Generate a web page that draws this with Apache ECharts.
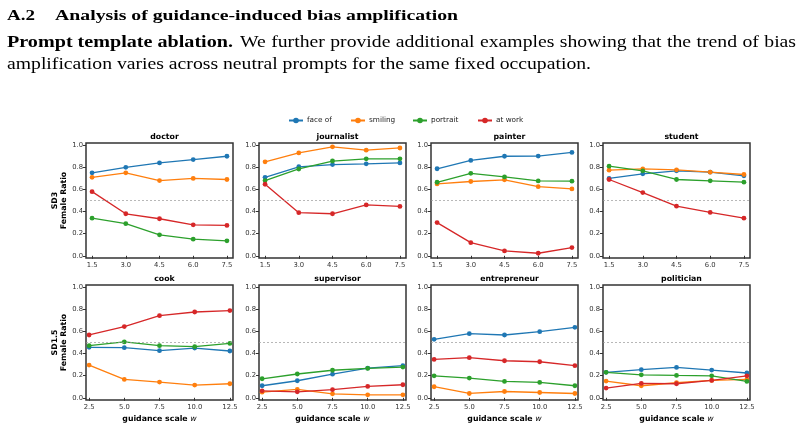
<!DOCTYPE html>
<html><head><meta charset="utf-8">
<script src="https://cdn.jsdelivr.net/npm/echarts@6/dist/echarts.min.js"></script>
<style>html,body{margin:0;padding:0;background:#fff}#c{width:804px;height:429px}</style>
</head><body><div id="c"></div>
<script>
// ---- data ----
const templates = ['face of', 'smiling', 'portrait', 'at work'];
const colors = ['#1f77b4', '#ff7f0e', '#2ca02c', '#d62728'];
const scalesSD3 = [1.5, 3.0, 4.5, 6.0, 7.5];
const scalesSD15 = [2.5, 5.0, 7.5, 10.0, 12.5];
const yTicks = [0.0, 0.2, 0.4, 0.6, 0.8, 1.0];
const occupationsSD3 = ['doctor', 'journalist', 'painter', 'student'];
const occupationsSD15 = ['cook', 'supervisor', 'entrepreneur', 'politician'];
// each: [face of, smiling, portrait, at work]
const doctor = [[0.75, 0.80, 0.84, 0.87, 0.90], [0.71, 0.75, 0.68, 0.70, 0.69], [0.34, 0.29, 0.19, 0.15, 0.135], [0.58, 0.38, 0.335, 0.28, 0.275]];
const journalist = [[0.71, 0.805, 0.825, 0.832, 0.84], [0.85, 0.93, 0.985, 0.955, 0.975], [0.68, 0.785, 0.857, 0.877, 0.877], [0.647, 0.39, 0.38, 0.46, 0.446]];
const painter = [[0.787, 0.862, 0.90, 0.902, 0.935], [0.65, 0.672, 0.687, 0.625, 0.605], [0.665, 0.746, 0.713, 0.677, 0.675], [0.30, 0.119, 0.044, 0.023, 0.074]];
const student = [[0.70, 0.741, 0.768, 0.756, 0.723], [0.774, 0.786, 0.777, 0.756, 0.735], [0.81, 0.768, 0.69, 0.678, 0.666], [0.69, 0.572, 0.449, 0.392, 0.34]];
const cook = [[0.456, 0.453, 0.426, 0.45, 0.423], [0.296, 0.166, 0.142, 0.115, 0.127], [0.471, 0.505, 0.471, 0.462, 0.492], [0.568, 0.644, 0.743, 0.776, 0.789]];
const supervisor = [[0.109, 0.154, 0.214, 0.269, 0.29], [0.051, 0.076, 0.036, 0.027, 0.027], [0.172, 0.215, 0.249, 0.266, 0.278], [0.063, 0.054, 0.073, 0.103, 0.118]];
const entrepreneur = [[0.529, 0.58, 0.568, 0.598, 0.637], [0.10, 0.039, 0.057, 0.048, 0.039], [0.199, 0.178, 0.148, 0.139, 0.109], [0.347, 0.363, 0.335, 0.326, 0.29]];
const politician = [[0.23, 0.254, 0.275, 0.251, 0.224], [0.151, 0.109, 0.136, 0.157, 0.166], [0.23, 0.208, 0.202, 0.199, 0.148], [0.088, 0.13, 0.127, 0.157, 0.199]];
const rowLabels = ['SD3', 'SD1.5'];
const xLabel = 'guidance scale ';
const panelData = { doctor, journalist, painter, student, cook, supervisor, entrepreneur, politician };

const headNum = 'A.2';
const headText = 'Analysis of guidance-induced bias amplification';
const paraBold = 'Prompt template ablation.';
const paraLine1 = 'We further provide additional examples showing that the trend of bias';
const paraLine2 = 'amplification varies across neutral prompts for the same fixed occupation.';

// ---- layout ----
const lefts = [86, 259, 431, 603];
const tops = [143, 285];
const W = 147, H = 115;
const tickFont = 'DejaVu Sans';

const grids = [], xAxes = [], yAxes = [], series = [], titles = [];
const rows = [occupationsSD3, occupationsSD15];
const rowScales = [scalesSD3, scalesSD15];
const xPad = [0.27, 0.22];
let gi = 0;
rows.forEach((occs, r) => {
  occs.forEach((occ, c) => {
    grids.push({ left: lefts[c], top: tops[r], width: W, height: H, show: true, borderColor: '#333', borderWidth: 1.5, backgroundColor: 'transparent' });
    const sc = rowScales[r];
    xAxes.push({
      gridIndex: gi, type: 'value', min: sc[0] - xPad[r], max: sc[sc.length - 1] + xPad[r],
      axisLine: { show: false }, splitLine: { show: false },
      axisTick: { show: true, inside: false, length: 3, customValues: sc, lineStyle: { color: '#333', width: 1 } },
      axisLabel: { customValues: sc, formatter: v => v.toFixed(1), fontFamily: tickFont, fontSize: 6.8, color: '#333', margin: 4 },
      name: r === 1 ? '{b|' + xLabel + '}{i|w}' : '', nameLocation: 'middle', nameGap: 15,
      nameTextStyle: { rich: { b: { fontFamily: tickFont, fontWeight: 'bold', fontSize: 7.8, color: '#000' }, i: { fontFamily: tickFont, fontStyle: 'italic', fontSize: 7.8, color: '#000' } } }
    });
    yAxes.push({
      gridIndex: gi, type: 'value', min: -0.02, max: 1.02,
      axisLine: { show: false }, splitLine: { show: false },
      axisTick: { show: true, length: 3, customValues: yTicks, lineStyle: { color: '#333', width: 1 } },
      axisLabel: { customValues: yTicks, formatter: v => v.toFixed(1), fontFamily: tickFont, fontSize: 6.8, color: '#333', margin: 3 },
      name: c === 0 ? rowLabels[r] + '\nFemale Ratio' : '', nameLocation: 'middle', nameRotate: 90, nameGap: 18,
      nameTextStyle: { fontFamily: tickFont, fontWeight: 'bold', fontSize: 7.8, color: '#000', lineHeight: 9, align: 'center' }
    });
    titles.push({ text: occ, left: lefts[c] + W / 2, top: tops[r] - 15, textAlign: 'center',
      textStyle: { fontFamily: tickFont, fontWeight: 'bold', fontSize: 7.8, color: '#000' } });
    const d = panelData[occ];
    templates.forEach((t, k) => {
      const s = {
        name: t, type: 'line', xAxisIndex: gi, yAxisIndex: gi,
        data: sc.map((x, i) => [x, d[k][i]]),
        symbol: 'circle', symbolSize: 4.8, showSymbol: true,
        lineStyle: { width: 1.3, color: colors[k] }, itemStyle: { color: colors[k] },
        animation: false, z: 3
      };
      if (k === 0) {
        s.markLine = { silent: true, symbol: 'none', label: { show: false },
          lineStyle: { color: '#999', type: [2, 2], width: 0.7 }, data: [{ yAxis: 0.5 }], animation: false };
      }
      series.push(s);
    });
    gi++;
  });
});

const legendLefts = [283, 345, 407, 472];
const legends = templates.map((t, k) => ({
  data: [t], left: legendLefts[k], top: 112, itemWidth: 14, itemHeight: 7, itemGap: 0,
  textStyle: { fontFamily: tickFont, fontSize: 7.3, color: '#222', padding: [0, 0, 0, -1] }
}));

// ---- text block (fitted to the reference's widths) ----
const serif = '"Liberation Serif", "Times New Roman", serif';
const fHead = 'bold 15.5px ' + serif, fBold = 'bold 16px ' + serif, fReg = '16px ' + serif;
const mctx = document.createElement('canvas').getContext('2d');
function mw(t, f) { mctx.font = f; return mctx.measureText(t).width; }
const graphic = [];
function addText(t, f, x, y, targetW) {
  graphic.push({ type: 'text', x: x, y: y, scaleX: targetW / mw(t, f), style: { text: t, font: f, fill: '#000' } });
}
addText(headNum, fHead, 7, 8, 28);
addText(headText, fHead, 55, 8, 403);
addText(paraBold, fBold, 7, 35, 226);
addText(paraLine2, fReg, 7, 57, 584);
// justified first line
const gReg = 584 / mw(paraLine2, fReg);
const words = paraLine1.split(' ');
const ww = words.map(w => mw(w, fReg) * gReg);
const line1Start = 240, line1End = 796;
const gap = (line1End - line1Start - ww.reduce((a, b) => a + b, 0)) / (words.length - 1);
let cx = line1Start;
words.forEach((w, i) => {
  graphic.push({ type: 'text', x: cx, y: 35, scaleX: gReg, style: { text: w, font: fReg, fill: '#000' } });
  cx += ww[i] + gap;
});

const chart = echarts.init(document.getElementById('c'), null, { renderer: 'canvas' });
chart.setOption({
  backgroundColor: '#fff', animation: false,
  title: titles, legend: legends, grid: grids, xAxis: xAxes, yAxis: yAxes, series, graphic
});
</script></body></html>
